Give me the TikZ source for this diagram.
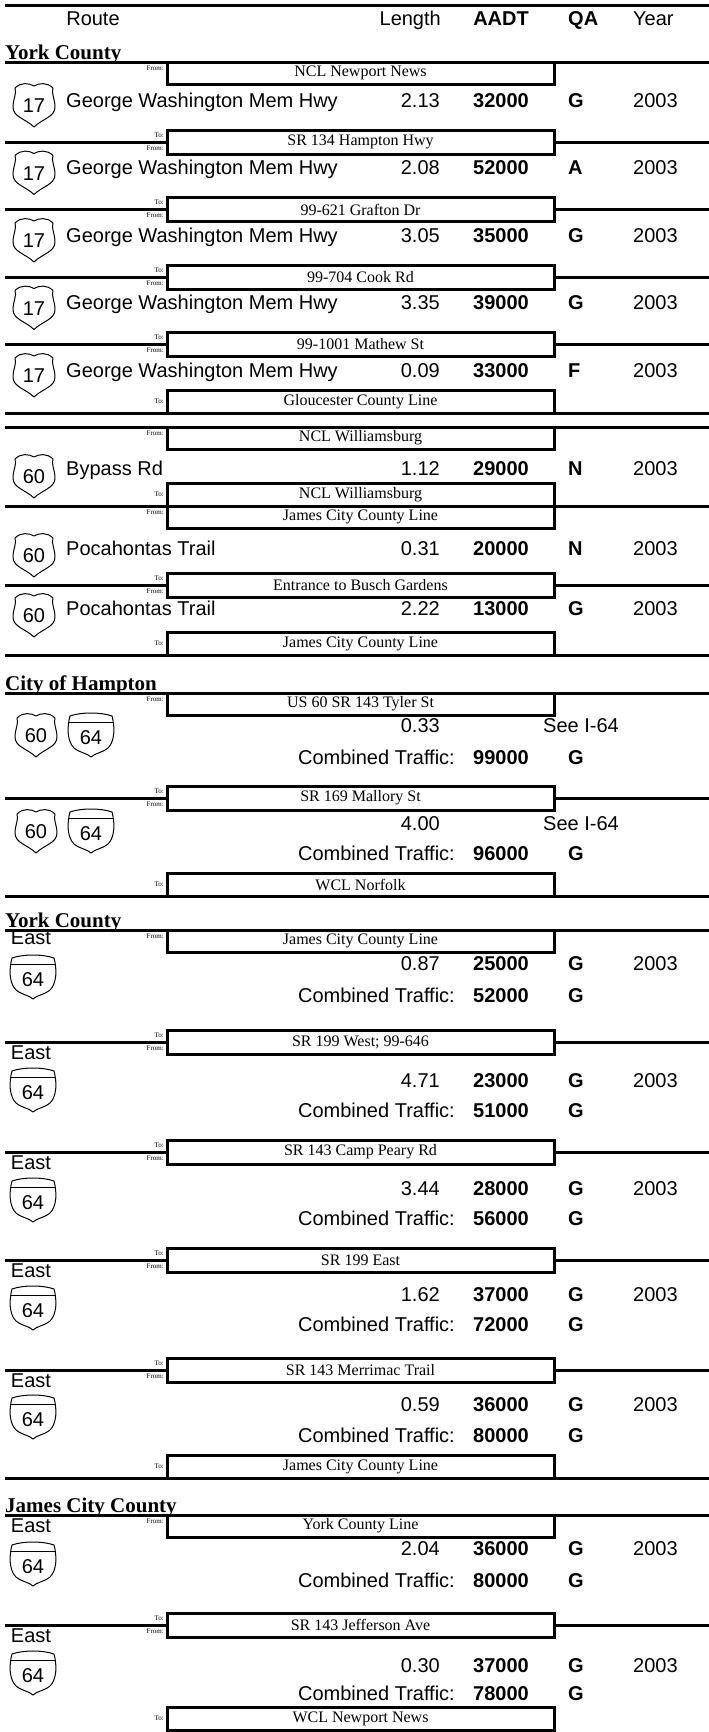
\documentclass[tikz,border=0pt]{standalone}
\usepackage{fontspec}
\setmainfont{Liberation Serif}
\newfontfamily\arialf{Liberation Sans}
\newfontfamily\timesf{Liberation Serif}
\newcommand\rowfont{\arialf\fontsize{20}{22}\selectfont}
\newcommand\rowfontb{\arialf\bfseries\fontsize{20}{22}\selectfont}
\newcommand\boxfont{\timesf\fontsize{16}{18}\selectfont}
\newcommand\tinyfont{\timesf\fontsize{7}{8}\selectfont}
\newcommand\titlefont{\timesf\bfseries\fontsize{21}{23}\selectfont}
\tikzset{
  rt/.style={font=\rowfont, inner sep=0pt},
  rtb/.style={font=\rowfontb, inner sep=0pt},
  rule/.style={line width=3pt},
  lbl/.style={font=\tinyfont, inner sep=0pt, anchor=mid east},
  roadbox/.style={draw, line width=3pt, fill=white, minimum width=387pt, inner sep=0pt, font=\boxfont},
  ttl/.style={font=\titlefont, inner sep=0pt, anchor=base west},
  shieldline/.style={line width=1pt, line join=round},
}
\newcommand\datarow[6]{%
  \node[rt, anchor=mid east] (len#1) at (440,#2) {#3};
  \node[rtb, anchor=mid east] (aadt#1) at (529,#2) {#4};
  \node[rtb, anchor=mid west] (qa#1) at (568,#2) {#5};
  \node[rt, anchor=mid west] (yr#1) at (633,#2) {#6};}
\newcommand\combrow[4]{%
  \node[rt, anchor=mid east] (ct#1) at (455,#2) {Combined Traffic:};
  \node[rtb, anchor=mid east] (cv#1) at (529,#2) {#3};
  \node[rtb, anchor=mid west] (cq#1) at (568,#2) {#4};}
\newcommand\usshield[4]{%
  \begin{scope}[shift={(#2,#3)}]
    \draw[shieldline] (-19,-17) .. controls (-13,-23) and (-5,-22) .. (0,-19)
      .. controls (5,-22) and (13,-23) .. (19,-17)
      .. controls (17,-12) and (21,-6) .. (21,2)
      .. controls (21,12) and (8,14) .. (0,22)
      .. controls (-8,14) and (-21,12) .. (-21,2)
      .. controls (-21,-6) and (-17,-12) .. (-19,-17) -- cycle;
    \node[rt] (#1) at (0,1) {#4};
  \end{scope}}
\newcommand\ishield[4]{%
  \begin{scope}[shift={(#2,#3)}]
    \draw[shieldline] (-21,-19) .. controls (-10,-23) and (10,-23) .. (21,-19)
      .. controls (24,-8) and (24,6) .. (17,13)
      .. controls (11,18) and (4,18) .. (0,22)
      .. controls (-4,18) and (-11,18) .. (-17,13)
      .. controls (-24,6) and (-24,-8) .. (-21,-19) -- cycle;
    \draw[shieldline] (-22.3,-13) -- (22.3,-13);
    \node[rt] (#1) at (0,3) {#4};
  \end{scope}}
\newcommand\trans[3]{%
  \draw[rule] (5,#2) -- (709,#2);
  \node[roadbox, minimum height=24pt] (#1) at (360.5,#2) {#3};
  \node[lbl] (#1t) at (164,{#2-7}) {To:};
  \node[lbl] (#1f) at (164,{#2+6}) {From:};}
\newcommand\frombox[3]{%
  \node[roadbox, minimum height=22pt] (#1) at (360.5,{#2+11}) {#3};
  \node[lbl] (#1f) at (164,{#2+6}) {From:};}
\newcommand\tobox[3]{%
  \node[roadbox, minimum height=23pt] (#1) at (360.5,{#2-11.5}) {#3};
  \node[lbl] (#1t) at (164,{#2-12}) {To:};}
\newcommand\sectitle[3]{%
  \draw[rule] (5,#2) -- (709,#2);
  \node[ttl] (#1) at (5,{#2-3}) {#3};}
\begin{document}
\begin{tikzpicture}[x=1pt,y=-1pt]
\useasboundingbox (0,0) rectangle (709,1732);
% header
\draw[rule] (5,5) -- (709,5);
\node[rt, anchor=mid] (hroute) at (93,23) {Route};
\node[rt, anchor=mid east] (hlen) at (441,23) {Length};
\node[rtb, anchor=mid east] (haadt) at (529,23) {AADT};
\node[rtb, anchor=mid west] (hqa) at (568,23) {QA};
\node[rt, anchor=mid west] (hyear) at (633,23) {Year};
% ---------- York County, US 17
\sectitle{s1}{62}{York County}
\frombox{b1}{62}{NCL Newport News}
\usshield{sh1}{34}{105}{17}
\node[rt, anchor=mid west] (n1) at (66,105) {George Washington Mem Hwy};
\datarow{1}{105}{2.13}{32000}{G}{2003}
\trans{b2}{142}{SR 134 Hampton Hwy}
\usshield{sh2}{34}{172.5}{17}
\node[rt, anchor=mid west] (n2) at (66,172.5) {George Washington Mem Hwy};
\datarow{2}{172.5}{2.08}{52000}{A}{2003}
\trans{b3}{209.5}{99-621 Grafton Dr}
\usshield{sh3}{34}{240}{17}
\node[rt, anchor=mid west] (n3) at (66,240) {George Washington Mem Hwy};
\datarow{3}{240}{3.05}{35000}{G}{2003}
\trans{b4}{277}{99-704 Cook Rd}
\usshield{sh4}{34}{307.5}{17}
\node[rt, anchor=mid west] (n4) at (66,307.5) {George Washington Mem Hwy};
\datarow{4}{307.5}{3.35}{39000}{G}{2003}
\trans{b5}{344.5}{99-1001 Mathew St}
\usshield{sh5}{34}{375}{17}
\node[rt, anchor=mid west] (n5) at (66,375) {George Washington Mem Hwy};
\datarow{5}{375}{0.09}{33000}{F}{2003}
\draw[rule] (5,413) -- (709,413);
\tobox{b6}{413}{Gloucester County Line}
% ---------- US 60
\draw[rule] (5,427) -- (709,427);
\frombox{b7}{427}{NCL Williamsburg}
\usshield{sh6}{34}{476}{60}
\node[rt, anchor=mid west] (n6) at (66,473) {Bypass Rd};
\datarow{6}{473}{1.12}{29000}{N}{2003}
\draw[rule] (5,506) -- (709,506);
\tobox{b8}{506}{NCL Williamsburg}
\frombox{b9}{506}{James City County Line}
\usshield{sh7}{34}{555}{60}
\node[rt, anchor=mid west] (n7) at (66,553) {Pocahontas Trail};
\datarow{7}{553}{0.31}{20000}{N}{2003}
\trans{b10}{585}{Entrance to Busch Gardens}
\usshield{sh8}{34}{615}{60}
\node[rt, anchor=mid west] (n8) at (66,613) {Pocahontas Trail};
\datarow{8}{613}{2.22}{13000}{G}{2003}
\draw[rule] (5,655) -- (709,655);
\tobox{b11}{655}{James City County Line}
% ---------- City of Hampton
\sectitle{s2}{693}{City of Hampton}
\frombox{b12}{693}{US 60 SR 143 Tyler St}
\usshield{sh9}{36}{735}{60}
\ishield{sh10}{91}{735}{64}
\node[rt, anchor=mid east] (len9) at (440,730) {0.33};
\node[rt, anchor=mid west] (see9) at (543,730) {See I-64};
\combrow{9}{762}{99000}{G}
\trans{b13}{798}{SR 169 Mallory St}
\usshield{sh11}{36}{831}{60}
\ishield{sh12}{91}{831}{64}
\node[rt, anchor=mid east] (len10) at (440,828) {4.00};
\node[rt, anchor=mid west] (see10) at (543,828) {See I-64};
\combrow{10}{858}{96000}{G}
\draw[rule] (5,896) -- (709,896);
\tobox{b14}{896}{WCL Norfolk}
% ---------- York County, I-64
\sectitle{s3}{930}{York County}
\frombox{b15}{930}{James City County Line}
\node[rt, anchor=mid] (e1) at (31,942) {East};
\ishield{sh13}{33}{977}{64}
\datarow{11}{968}{0.87}{25000}{G}{2003}
\combrow{11}{1000}{52000}{G}
\trans{b16}{1042}{SR 199 West; 99-646}
\node[rt, anchor=mid] (e2) at (31,1057) {East};
\ishield{sh14}{33}{1090}{64}
\datarow{12}{1085}{4.71}{23000}{G}{2003}
\combrow{12}{1115}{51000}{G}
\trans{b17}{1152}{SR 143 Camp Peary Rd}
\node[rt, anchor=mid] (e3) at (31,1167) {East};
\ishield{sh15}{33}{1200}{64}
\datarow{13}{1193}{3.44}{28000}{G}{2003}
\combrow{13}{1223}{56000}{G}
\trans{b18}{1260}{SR 199 East}
\node[rt, anchor=mid] (e4) at (31,1275) {East};
\ishield{sh16}{33}{1308}{64}
\datarow{14}{1299}{1.62}{37000}{G}{2003}
\combrow{14}{1329}{72000}{G}
\trans{b19}{1370}{SR 143 Merrimac Trail}
\node[rt, anchor=mid] (e5) at (31,1385) {East};
\ishield{sh17}{33}{1417}{64}
\datarow{15}{1409}{0.59}{36000}{G}{2003}
\combrow{15}{1440}{80000}{G}
\draw[rule] (5,1478) -- (709,1478);
\tobox{b20}{1478}{James City County Line}
% ---------- James City County
\sectitle{s4}{1515}{James City County}
\frombox{b21}{1515}{York County Line}
\node[rt, anchor=mid] (e6) at (31,1530) {East};
\ishield{sh18}{33}{1564}{64}
\datarow{16}{1553}{2.04}{36000}{G}{2003}
\combrow{16}{1585}{80000}{G}
\trans{b22}{1625}{SR 143 Jefferson Ave}
\node[rt, anchor=mid] (e7) at (31,1640) {East};
\ishield{sh19}{33}{1673}{64}
\datarow{17}{1670}{0.30}{37000}{G}{2003}
\combrow{17}{1698}{78000}{G}
\tobox{b23}{1730}{WCL Newport News}
\end{tikzpicture}
\end{document}
